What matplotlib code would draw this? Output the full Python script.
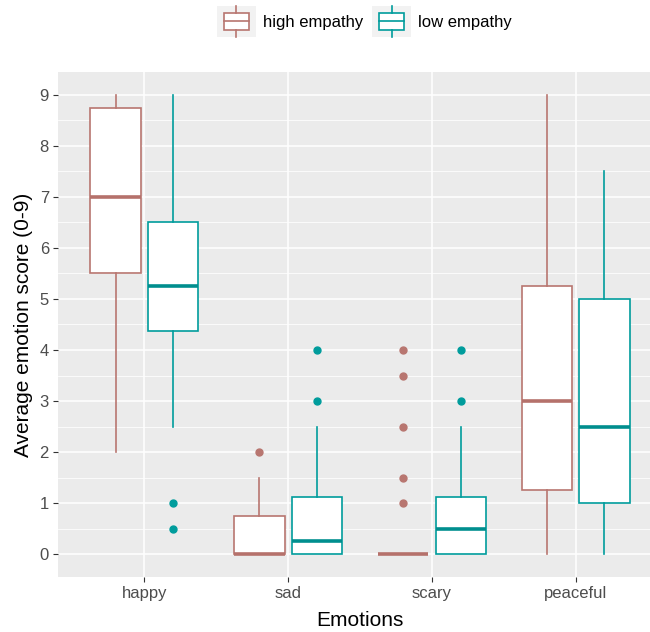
import matplotlib
matplotlib.use("Agg")
import matplotlib.pyplot as plt
from matplotlib.legend_handler import HandlerBase
from matplotlib.patches import Rectangle
from matplotlib.lines import Line2D
from matplotlib.ticker import MultipleLocator

plt.rcParams['font.family'] = ['Liberation Sans', 'DejaVu Sans']

categories = ['happy', 'sad', 'scary', 'peaceful']
groups = ['high empathy', 'low empathy']
colors = ['#B87670', '#009C9C']
median_colors = ['#B5716B', '#008E8E']

high_whislo = [2, 0, 0, 0]
high_q1 = [5.5, 0, 0, 1.25]
high_med = [7, 0, 0, 3]
high_q3 = [8.75, 0.75, 0, 5.25]
high_whishi = [9, 1.5, 0, 9]
high_fliers = [[], [2], [1, 1.5, 2.5, 3.5, 4], []]

low_whislo = [2.5, 0, 0, 0]
low_q1 = [4.375, 0, 0, 1]
low_med = [5.25, 0.25, 0.5, 2.5]
low_q3 = [6.5, 1.125, 1.125, 5]
low_whishi = [9, 2.5, 2.5, 7.5]
low_fliers = [[0.5, 1], [3, 4], [3, 4], []]

y_ticks = [0, 1, 2, 3, 4, 5, 6, 7, 8, 9]

series = [
    (high_whislo, high_q1, high_med, high_q3, high_whishi, high_fliers),
    (low_whislo, low_q1, low_med, low_q3, low_whishi, low_fliers),
]

fig = plt.figure(figsize=(6.5, 6.32), dpi=100)
ax = fig.add_axes([58 / 650, (632 - 577) / 632, 604 / 650, (577 - 72) / 632])
ax.set_facecolor('#EBEBEB')

width = 0.35
offsets = [-0.2, 0.2]
for gi, (wl, q1, med, q3, wh, fl) in enumerate(series):
    stats = []
    for i in range(len(categories)):
        stats.append(dict(whislo=wl[i], q1=q1[i], med=med[i], q3=q3[i],
                          whishi=wh[i], fliers=fl[i], label=categories[i]))
    pos = [i + 1 + offsets[gi] for i in range(len(categories))]
    c = colors[gi]
    ax.bxp(stats, positions=pos, widths=width, showcaps=False, patch_artist=True,
           boxprops=dict(facecolor='white', edgecolor=c, linewidth=1.2),
           whiskerprops=dict(color=c, linewidth=1.2),
           medianprops=dict(color=median_colors[gi], linewidth=2.6, solid_capstyle='butt'),
           flierprops=dict(marker='o', markerfacecolor=c, markeredgecolor=c,
                           markersize=5, linestyle='none'),
           manage_ticks=False, zorder=3)

ax.set_xlim(0.4, 4.6)
ax.set_ylim(-0.45, 9.45)
ax.set_xticks(range(1, len(categories) + 1))
ax.set_xticklabels(categories)
ax.set_yticks(y_ticks)
ax.yaxis.set_minor_locator(MultipleLocator(0.5))
ax.grid(which='major', color='white', linewidth=1.1)
ax.grid(which='minor', axis='y', color='white', linewidth=0.55)
ax.set_axisbelow(True)
for s in ax.spines.values():
    s.set_visible(False)
ax.tick_params(which='major', length=3.5, width=0.8, color='#333333',
               labelcolor='#4D4D4D', labelsize=12, pad=3)
ax.tick_params(which='minor', length=0)
ax.set_xlabel('Emotions', fontsize=15, labelpad=7)
ax.set_ylabel('Average emotion score (0-9)', fontsize=15, labelpad=5)


class BoxHandler(HandlerBase):
    def __init__(self, color):
        super().__init__()
        self.color = color

    def create_artists(self, legend, orig_handle, xdescent, ydescent, width, height, fontsize, trans):
        arts = []
        bg = Rectangle((-xdescent - 2, -ydescent - 6), width + 4, height + 12,
                       facecolor='#F2F2F2', edgecolor='none', transform=trans)
        arts.append(bg)
        bx0 = -xdescent + width * 0.12
        bw = width * 0.76
        by0 = -ydescent - 1
        bh = height + 2
        box = Rectangle((bx0, by0), bw, bh, facecolor='white', edgecolor=self.color,
                        linewidth=1.2, transform=trans)
        arts.append(box)
        xm = bx0 + bw / 2
        arts.append(Line2D([bx0, bx0 + bw], [by0 + bh / 2] * 2, color=self.color,
                           linewidth=1.2, transform=trans))
        arts.append(Line2D([xm, xm], [by0 + bh, by0 + bh + 5], color=self.color,
                           linewidth=1.2, transform=trans))
        arts.append(Line2D([xm, xm], [by0, by0 - 5], color=self.color,
                           linewidth=1.2, transform=trans))
        return arts


h1 = Rectangle((0, 0), 1, 1)
h2 = Rectangle((0, 0), 1, 1)
leg = fig.legend([h1, h2], groups, loc='center', bbox_to_anchor=(366 / 650, 1 - 22 / 632),
                 ncol=2, frameon=False, fontsize=12, handlelength=2.0, handleheight=1.0,
                 handletextpad=0.6, columnspacing=0.7,
                 handler_map={h1: BoxHandler(colors[0]), h2: BoxHandler(colors[1])})

fig.savefig('out.png', dpi=100, facecolor='white')
